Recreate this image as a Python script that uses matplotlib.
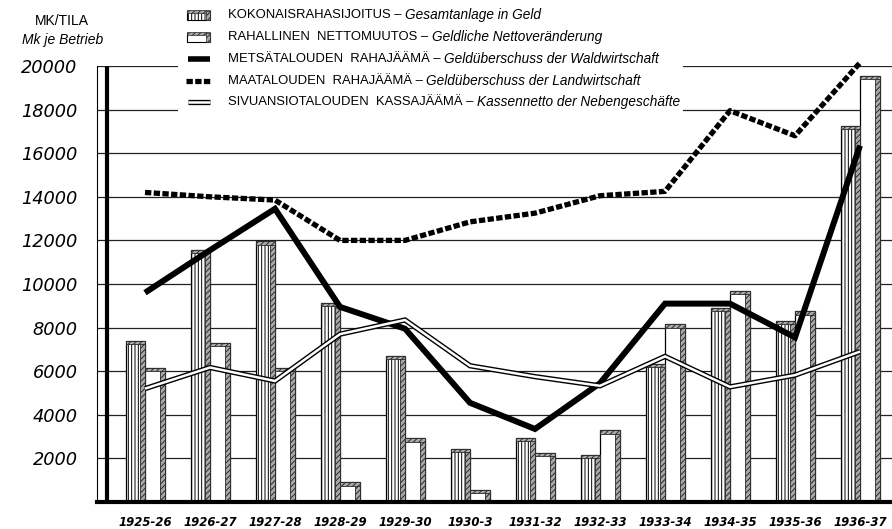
import numpy as np
import matplotlib
matplotlib.use("Agg")
import matplotlib.pyplot as plt
from matplotlib.lines import Line2D
from matplotlib.patches import Rectangle
import matplotlib.transforms as mtransforms

# ---------------- data ----------------
categories = ['1925-26', '1926-27', '1927-28', '1928-29', '1929-30', '1930-3',
              '1931-32', '1932-33', '1933-34', '1934-35', '1935-36', '1936-37']
total_investment = [7400, 11550, 11950, 9130, 6720, 2450, 2950, 2150, 6350, 8900, 8300, 17250]
net_change = [6150, 7300, 6150, 900, 2920, 550, 2250, 3280, 8150, 9700, 8750, 19550]
forest_surplus = [9600, 11550, 13450, 8950, 7950, 4550, 3350, 5450, 9100, 9100, 7550, 16350]
farm_surplus = [14200, 14000, 13850, 12000, 12000, 12850, 13250, 14050, 14250, 17950, 16800, 20150]
side_surplus = [5200, 6170, 5550, 7700, 8350, 6250, 5750, 5330, 6680, 5280, 5820, 6900]
yticks = [2000, 4000, 6000, 8000, 10000, 12000, 14000, 16000, 18000, 20000]

legend_fi = ['KOKONAISRAHASIJOITUS', 'RAHALLINEN  NETTOMUUTOS', 'METSÄTALOUDEN  RAHAJÄÄMÄ',
             'MAATALOUDEN  RAHAJÄÄMÄ', 'SIVUANSIOTALOUDEN  KASSAJÄÄMÄ']
legend_de = ['Gesamtanlage in Geld', 'Geldliche Nettoveränderung',
             'Geldüberschuss der Waldwirtschaft', 'Geldüberschuss der Landwirtschaft',
             'Kassennetto der Nebengeschäfte']

W, H = 892, 529
fig = plt.figure(figsize=(W / 100, H / 100), dpi=100)
fig.patch.set_facecolor('white')
ax = fig.add_axes([97 / W, 1 - 502 / H, 1 - 97 / W, (502 - 66) / H])

x = np.arange(len(categories))
bw = 0.3
sw = 0.07
band = 150
shade_fc = '#a8a8a8'
shade_ec = '#2a2a2a'
plt.rcParams['hatch.linewidth'] = 0.7

for vals, off, hatch in [(total_investment, -bw / 2, '|||||'), (net_change, bw / 2, None)]:
    xs = x + off
    v = np.array(vals)
    ax.bar(xs, v, width=bw, color='white', edgecolor='black', hatch=hatch,
           linewidth=0.9, zorder=2)
    ax.bar(xs + bw / 2 - sw / 2, v, width=sw, color=shade_fc, edgecolor=shade_ec,
           hatch='//////', linewidth=0.6, zorder=2.1)
    ax.bar(xs, np.full_like(v, band), bottom=v - band, width=bw, color=shade_fc,
           edgecolor=shade_ec, hatch='//////', linewidth=0.6, zorder=2.1)

# lines
ax.plot(x, forest_surplus, color='black', lw=4.3, solid_capstyle='butt',
        solid_joinstyle='miter', zorder=4)
ax.plot(x, farm_surplus, color='black', lw=3.8, dashes=(1.2, 0.45),
        dash_capstyle='butt', zorder=4, clip_on=False)
ax.plot(x, side_surplus, color='black', lw=3.8, solid_capstyle='butt',
        solid_joinstyle='miter', zorder=5)
ax.plot(x, side_surplus, color='white', lw=1.8, solid_capstyle='butt',
        solid_joinstyle='miter', zorder=5.1)

# axes styling
ax.set_xlim((97 - 145) / 65, (892 - 145) / 65)
ax.set_ylim(0, 20000)
ax.set_yticks(yticks)
ax.set_yticklabels([str(t) for t in yticks], fontsize=12.8, style='italic',
                   family='DejaVu Sans')
ax.yaxis.grid(True, color='#222222', lw=0.9, zorder=0)
ax.set_axisbelow(True)
ax.tick_params(axis='y', length=0, pad=14)
ax.set_xticks(x)
ax.set_xticklabels(categories, fontsize=8.4, style='italic', weight='bold',
                   family='DejaVu Sans')
ax.tick_params(axis='x', length=0, pad=10)
for s in ['top', 'right']:
    ax.spines[s].set_visible(False)
ax.spines['left'].set_linewidth(0.8)
ax.spines['bottom'].set_linewidth(3.0)
ax.axvline((107 - 145) / 65, color='black', lw=3.0, zorder=6)

fam = ['Liberation Sans Narrow', 'Liberation Sans', 'DejaVu Sans']

# y-axis title
fig.text(62 / W, 1 - 21 / H, 'MK/TILA', ha='center', va='center', fontsize=10,
         family=fam)
fig.text(63 / W, 1 - 40 / H, 'Mk je Betrieb', ha='center', va='center', fontsize=10,
         style='italic', family=fam)

# legend (custom, pixel coordinates from top-left)
pt = mtransforms.Affine2D().scale(1 / W, -1 / H).translate(0, 1) + fig.transFigure
fig.add_artist(Rectangle((178, 0), 505, 116, transform=pt, facecolor='white',
                         edgecolor='none', zorder=1))
rows_y = [15, 37, 59, 81, 102]

# icons
fig.add_artist(Rectangle((187, rows_y[0] - 4), 23, 9, transform=pt, facecolor='white',
                         edgecolor='black', hatch='|||||', lw=0.8, zorder=3))
fig.add_artist(Rectangle((187, rows_y[0] - 5), 23, 2.5, transform=pt, facecolor=shade_fc,
                         edgecolor=shade_ec, hatch='//////', lw=0.5, zorder=3.1))
fig.add_artist(Rectangle((206, rows_y[0] - 4), 4, 9, transform=pt, facecolor=shade_fc,
                         edgecolor=shade_ec, hatch='//////', lw=0.5, zorder=3.1))
fig.add_artist(Rectangle((187, rows_y[1] - 4), 23, 9, transform=pt, facecolor='white',
                         edgecolor='black', lw=0.8, zorder=3))
fig.add_artist(Rectangle((187, rows_y[1] - 5), 23, 2.5, transform=pt, facecolor=shade_fc,
                         edgecolor=shade_ec, hatch='//////', lw=0.5, zorder=3.1))
fig.add_artist(Rectangle((206, rows_y[1] - 4), 4, 9, transform=pt, facecolor=shade_fc,
                         edgecolor=shade_ec, hatch='//////', lw=0.5, zorder=3.1))
fig.add_artist(Line2D([188, 210], [rows_y[2], rows_y[2]], transform=pt, color='black',
                      lw=4.0, solid_capstyle='butt', zorder=3))
fig.add_artist(Line2D([186, 211], [rows_y[3], rows_y[3]], transform=pt, color='black',
                      lw=3.8, dashes=(1.2, 0.45), dash_capstyle='butt', zorder=3))
fig.add_artist(Line2D([188, 210], [rows_y[4], rows_y[4]], transform=pt, color='black',
                      lw=3.8, solid_capstyle='butt', zorder=3))
fig.add_artist(Line2D([188, 210], [rows_y[4], rows_y[4]], transform=pt, color='white',
                      lw=1.8, solid_capstyle='butt', zorder=3.1))

renderer = fig.canvas.get_renderer()
for fi, de, yy in zip(legend_fi, legend_de, rows_y):
    t1 = fig.text(228 / W, 1 - yy / H, fi + ' – ', ha='left', va='center',
                  fontsize=9.4, family=fam, zorder=4)
    bb = t1.get_window_extent(renderer)
    fig.text(bb.x1 / W, 1 - yy / H, de, ha='left', va='center', fontsize=9.8,
             style='italic', family=fam, zorder=4)

fig.savefig('out.png', dpi=100)
